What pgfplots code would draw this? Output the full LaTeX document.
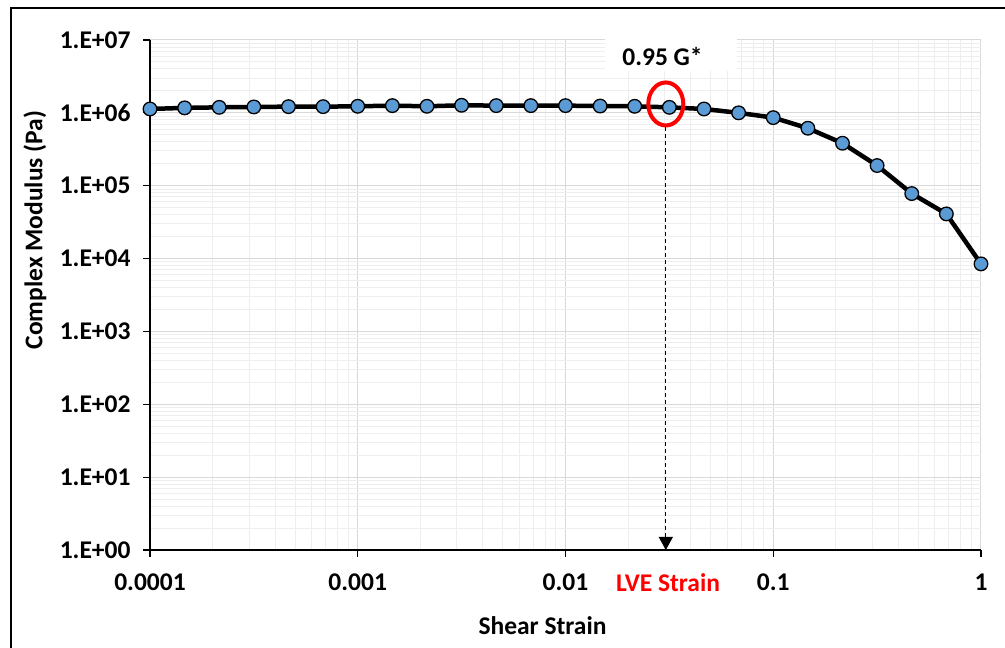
\documentclass[border=0pt]{standalone}
\usepackage{fontspec}
\setmainfont{Carlito}
\usepackage{pgfplots}
\pgfplotsset{compat=1.18}
\usetikzlibrary{arrows.meta}
\definecolor{markblue}{HTML}{5B9BD5}
\definecolor{majgrid}{HTML}{D9D9D9}
\definecolor{mingrid}{HTML}{EEEEEE}
\definecolor{lvered}{HTML}{FF0000}
\newcommand{\lblfont}{\fontsize{25.5bp}{30bp}\selectfont\bfseries}
\begin{document}
\begin{tikzpicture}[x=1bp,y=1bp]
\useasboundingbox (0,0) rectangle (1005,648);
\fill[white] (0,0) rectangle (1005,648);
\draw[line width=1.5bp] (11,0) -- (11,640) -- (1005,640);
\begin{axis}[
  at={(150bp,98bp)}, anchor=south west,
  scale only axis, width=831bp, height=510bp,
  xmode=log, ymode=log,
  xmin=1e-4, xmax=1, ymin=1, ymax=1e7,
  axis x line=bottom, axis y line=left,
  x axis line style={-, line width=1.3bp},
  y axis line style={-, line width=1.3bp},
  xtick={1e-4,1e-3,1e-2,1e-1,1},
  xticklabels={0.0001,0.001,0.01,0.1,1},
  ytick={1,10,100,1000,1e4,1e5,1e6,1e7},
  yticklabels={1.E+00,1.E+01,1.E+02,1.E+03,1.E+04,1.E+05,1.E+06,1.E+07},
  minor xtick={2e-4,3e-4,4e-4,5e-4,6e-4,7e-4,8e-4,9e-4,
               2e-3,3e-3,4e-3,5e-3,6e-3,7e-3,8e-3,9e-3,
               2e-2,3e-2,4e-2,5e-2,6e-2,7e-2,8e-2,9e-2,
               0.2,0.3,0.4,0.5,0.6,0.7,0.8,0.9},
  minor ytick={2,3,4,5,6,7,8,9,20,30,40,50,60,70,80,90,
               200,300,400,500,600,700,800,900,
               2e3,3e3,4e3,5e3,6e3,7e3,8e3,9e3,
               2e4,3e4,4e4,5e4,6e4,7e4,8e4,9e4,
               2e5,3e5,4e5,5e5,6e5,7e5,8e5,9e5,
               2e6,3e6,4e6,5e6,6e6,7e6,8e6,9e6},
  grid=both,
  major grid style={majgrid, line width=1bp},
  minor grid style={mingrid, line width=1bp},
  tick align=outside,
  major tick length=7bp, minor tick length=0bp,
  tick style={black, line width=1.2bp},
  /pgf/number format/assume math mode=true,
  ticklabel style={font=\lblfont},
  xticklabel style={yshift=-13bp},
  yticklabel style={xshift=-9bp},
  clip=false,
]
\addplot[black, line width=4.5bp, mark=*, mark size=6.8bp,
  mark options={fill=markblue, draw=black, line width=1.3bp}] coordinates {
(1.0e-4,1.13e6)
(1.468e-4,1.17e6)
(2.154e-4,1.19e6)
(3.162e-4,1.205e6)
(4.642e-4,1.216e6)
(6.813e-4,1.216e6)
(1.0e-3,1.23e6)
(1.468e-3,1.256e6)
(2.154e-3,1.23e6)
(3.162e-3,1.27e6)
(4.642e-3,1.256e6)
(6.813e-3,1.256e6)
(1.0e-2,1.256e6)
(1.468e-2,1.24e6)
(2.154e-2,1.23e6)
(3.162e-2,1.19e6)
(4.642e-2,1.13e6)
(6.813e-2,1.0e6)
(0.1,8.6e5)
(0.1468,6.15e5)
(0.2154,3.83e5)
(0.3162,1.89e5)
(0.4642,7.8e4)
(0.6813,4.1e4)
(1.0,8.45e3)
};
\draw[dash pattern=on 4bp off 3bp, line width=1bp, -{Triangle[width=14bp,length=13bp]}]
  (axis cs:0.0304,6.41e5) -- (axis cs:0.0304,1);
\draw[lvered, line width=4bp] (axis cs:0.0304,1.324e6) ellipse [x radius=17.5bp, y radius=21.5bp];
\end{axis}
\fill[white] (605,577) rectangle (737,609);
\node[font=\lblfont, inner sep=0pt] at (662.5,592) {0.95 G*};
\node[font=\lblfont, text=lvered, inner sep=0pt] at (668,65) {LVE Strain};
\node[font=\lblfont, inner sep=0pt] at (542.5,22) {Shear Strain};
\node[font=\lblfont, inner sep=0pt, rotate=90] at (35,418) {Complex Modulus (Pa)};
\end{tikzpicture}
\end{document}
